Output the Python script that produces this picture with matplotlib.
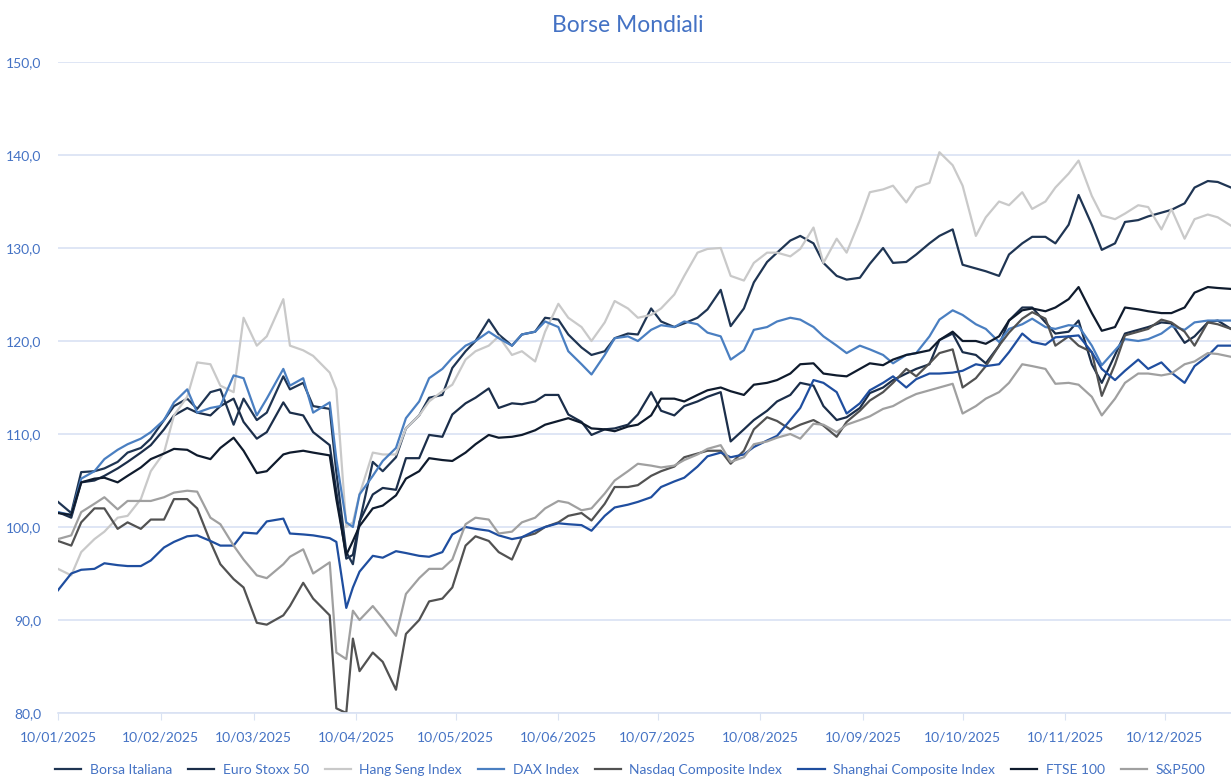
import pandas as pd
import matplotlib
matplotlib.use("Agg")
import matplotlib.pyplot as plt
import matplotlib.dates as mdates
from matplotlib.ticker import FuncFormatter

# closes read twice a week (one row per month)
dates = ["2025-01-10", "2025-01-14", "2025-01-17", "2025-01-21", "2025-01-24", "2025-01-28", "2025-01-31",
         "2025-02-04", "2025-02-07", "2025-02-11", "2025-02-14", "2025-02-18", "2025-02-21", "2025-02-25", "2025-02-28",
         "2025-03-04", "2025-03-07", "2025-03-11", "2025-03-14", "2025-03-19", "2025-03-21", "2025-03-25", "2025-03-28",
         "2025-04-02", "2025-04-04", "2025-04-07", "2025-04-09", "2025-04-11", "2025-04-15", "2025-04-18", "2025-04-22",
         "2025-04-25", "2025-04-29",
         "2025-05-02", "2025-05-06", "2025-05-09", "2025-05-13", "2025-05-16", "2025-05-20", "2025-05-23", "2025-05-27",
         "2025-05-30",
         "2025-06-03", "2025-06-06", "2025-06-10", "2025-06-13", "2025-06-17", "2025-06-20", "2025-06-24", "2025-06-27",
         "2025-07-01", "2025-07-04", "2025-07-08", "2025-07-11", "2025-07-15", "2025-07-18", "2025-07-22", "2025-07-25",
         "2025-07-29",
         "2025-08-01", "2025-08-05", "2025-08-08", "2025-08-12", "2025-08-15", "2025-08-19", "2025-08-22", "2025-08-26",
         "2025-08-29",
         "2025-09-02", "2025-09-05", "2025-09-09", "2025-09-12", "2025-09-16", "2025-09-19", "2025-09-23", "2025-09-26",
         "2025-09-30",
         "2025-10-03", "2025-10-07", "2025-10-10", "2025-10-14", "2025-10-17", "2025-10-21", "2025-10-24", "2025-10-28",
         "2025-10-31",
         "2025-11-04", "2025-11-07", "2025-11-11", "2025-11-14", "2025-11-18", "2025-11-21", "2025-11-25", "2025-11-28",
         "2025-12-02", "2025-12-05", "2025-12-09", "2025-12-12", "2025-12-16", "2025-12-19", "2025-12-23", "2025-12-26",
         "2025-12-30"]

borsa_italiana = [102.7, 101.5, 105.9, 106.0, 106.3, 107.0, 108.0,
                  108.5, 109.5, 111.5, 113.0, 113.8, 112.7, 114.5, 114.8,
                  111.0, 113.8, 111.5, 112.3, 116.2, 114.8, 115.5, 113.0,
                  112.7, 105.9, 97.3, 96.0, 100.5, 107.0, 106.0, 107.5, 110.6, 112.0,
                  113.9, 114.2, 117.1, 118.9, 120.0, 122.3, 120.7, 119.5, 120.7,
                  121.0, 122.5, 122.3, 120.7, 119.3, 118.5, 118.9, 120.3,
                  120.8, 120.7, 123.5, 122.1, 121.5, 121.9, 122.5, 123.4, 125.5,
                  121.6, 123.5, 126.3, 128.5, 129.5, 130.8, 131.3, 130.5, 128.4,
                  127.0, 126.6, 126.8, 128.3, 130.0, 128.4, 128.5, 129.3, 130.5,
                  131.3, 132.0, 128.2, 127.8, 127.5, 127.0, 129.3, 130.5, 131.2,
                  131.2, 130.5, 132.5, 135.7, 132.5, 129.8, 130.5, 132.8,
                  133.0, 133.4, 133.8, 134.1, 134.8, 136.5, 137.2, 137.1, 136.5]
euro_stoxx = [101.6, 101.0, 104.8, 105.0, 105.5, 106.3, 107.0,
              108.0, 108.8, 110.5, 112.0, 112.8, 112.3, 112.0, 113.0,
              113.8, 111.3, 109.5, 110.2, 113.4, 112.3, 112.0, 110.2,
              108.8, 103.8, 96.6, 97.0, 100.6, 103.5, 104.2, 104.0, 107.4, 107.4,
              109.9, 109.7, 112.1, 113.3, 113.9, 114.9, 112.8, 113.3, 113.2,
              113.5, 114.2, 114.2, 112.1, 111.3, 109.9, 110.5, 110.6,
              111.0, 112.1, 114.5, 112.5, 112.0, 113.0, 113.5, 114.0, 114.5,
              109.2, 110.5, 111.5, 112.5, 113.5, 114.2, 115.5, 115.2, 113.0,
              111.5, 111.8, 112.8, 114.4, 115.0, 115.8, 116.5, 117.0, 117.5,
              120.1, 120.8, 118.8, 118.5, 117.6, 119.5, 122.2, 123.6, 123.6,
              122.0, 120.8, 121.0, 122.2, 117.5, 115.5, 118.5, 120.8,
              121.2, 121.5, 122.0, 121.9, 119.8, 120.5, 122.0, 122.2, 121.3]
hang_seng = [95.5, 94.8, 97.3, 98.7, 99.5, 101.0, 101.2,
             103.0, 106.0, 108.0, 112.0, 114.0, 117.7, 117.5, 115.2,
             114.5, 122.5, 119.5, 120.5, 124.5, 119.5, 119.0, 118.4,
             116.6, 114.8, 100.0, 100.5, 103.5, 108.0, 107.8, 107.8, 110.6, 112.0,
             113.5, 114.6, 115.3, 118.0, 118.9, 119.5, 120.5, 118.5, 118.9,
             117.8, 121.0, 124.0, 122.5, 121.5, 120.0, 122.0, 124.3,
             123.5, 122.5, 122.8, 123.5, 125.0, 127.0, 129.5, 129.9, 130.0,
             127.0, 126.5, 128.4, 129.5, 129.5, 129.1, 129.9, 132.2, 128.4,
             131.0, 129.5, 133.0, 136.0, 136.3, 136.7, 134.9, 136.5, 137.0,
             140.3, 138.9, 136.7, 131.3, 133.3, 135.0, 134.6, 136.0, 134.2,
             135.0, 136.5, 138.0, 139.4, 135.6, 133.5, 133.1, 133.7,
             134.6, 134.4, 132.0, 134.2, 131.0, 133.1, 133.6, 133.3, 132.4]
dax = [101.6, 101.3, 105.2, 106.0, 107.3, 108.3, 108.9,
       109.5, 110.2, 111.5, 113.4, 114.8, 112.3, 112.8, 113.0,
       116.3, 116.0, 112.0, 113.8, 117.0, 115.2, 116.0, 112.3,
       113.4, 107.3, 100.5, 100.0, 103.5, 105.5, 107.1, 108.5, 111.7, 113.5,
       116.0, 117.0, 118.2, 119.5, 120.0, 121.0, 120.3, 119.5, 120.7,
       121.0, 122.1, 121.5, 118.9, 117.5, 116.4, 118.5, 120.3,
       120.5, 120.0, 121.2, 121.7, 121.5, 122.1, 121.8, 120.9, 120.5,
       118.0, 119.0, 121.2, 121.5, 122.1, 122.5, 122.3, 121.5, 120.5,
       119.5, 118.7, 119.5, 119.1, 118.5, 117.6, 118.5, 118.7, 120.5,
       122.3, 123.3, 122.8, 121.8, 121.3, 119.9, 121.3, 121.8, 122.4,
       121.5, 121.3, 121.7, 121.6, 119.5, 117.4, 119.0, 120.2,
       120.0, 120.2, 120.8, 121.6, 121.2, 122.0, 122.2, 122.2, 122.2]
nasdaq = [98.5, 98.0, 100.5, 102.0, 102.0, 99.8, 100.5,
          99.8, 100.8, 100.8, 103.0, 103.0, 102.0, 98.4, 96.0,
          94.4, 93.5, 89.7, 89.5, 90.5, 91.5, 94.0, 92.3,
          90.5, 80.5, 80.0, 88.0, 84.5, 86.5, 85.5, 82.5, 88.5, 90.0,
          92.0, 92.3, 93.5, 98.0, 99.0, 98.5, 97.3, 96.5, 98.9,
          99.3, 100.0, 100.5, 101.2, 101.5, 100.7, 102.5, 104.3,
          104.3, 104.5, 105.5, 106.0, 106.5, 107.5, 107.9, 108.2, 108.2,
          106.8, 108.2, 110.5, 111.8, 111.4, 110.5, 111.0, 111.5, 110.9,
          109.7, 111.3, 112.5, 113.6, 114.5, 115.5, 117.0, 116.2, 117.6,
          118.7, 119.1, 115.0, 116.0, 117.3, 119.5, 120.9, 122.4, 123.1,
          122.4, 119.5, 120.5, 119.5, 118.8, 114.1, 117.5, 120.6,
          121.0, 121.3, 122.3, 122.0, 121.0, 119.5, 122.0, 121.8, 121.3]
shanghai = [93.2, 95.0, 95.4, 95.5, 96.1, 95.9, 95.8,
            95.8, 96.4, 97.8, 98.4, 99.0, 99.1, 98.5, 98.0,
            98.0, 99.4, 99.3, 100.6, 100.9, 99.3, 99.2, 99.1,
            98.8, 98.4, 91.3, 93.5, 95.2, 96.9, 96.7, 97.4, 97.2, 96.9,
            96.8, 97.3, 99.2, 100.0, 99.8, 99.6, 99.1, 98.7, 98.9,
            99.6, 100.0, 100.4, 100.3, 100.2, 99.6, 101.2, 102.1,
            102.4, 102.7, 103.2, 104.3, 104.9, 105.3, 106.5, 107.6, 108.0,
            107.5, 107.8, 108.6, 109.3, 109.8, 111.5, 112.8, 115.8, 115.5,
            114.5, 112.2, 113.3, 114.7, 115.5, 116.2, 115.0, 115.9, 116.5,
            116.5, 116.6, 116.8, 117.5, 117.3, 117.5, 118.8, 120.8, 119.9,
            119.6, 120.4, 120.5, 120.6, 118.8, 117.0, 115.8, 116.8,
            118.0, 117.0, 117.7, 116.6, 115.5, 117.3, 118.4, 119.5, 119.5]
ftse = [101.5, 101.3, 104.8, 105.2, 105.3, 104.8, 105.5,
        106.4, 107.3, 107.9, 108.4, 108.3, 107.7, 107.3, 108.5,
        109.6, 108.2, 105.8, 106.0, 107.8, 108.0, 108.2, 108.0,
        107.7, 103.0, 97.0, 98.5, 100.1, 102.0, 102.3, 103.4, 105.2, 106.0,
        107.4, 107.2, 107.1, 108.0, 108.9, 109.9, 109.6, 109.7, 109.9,
        110.4, 111.0, 111.4, 111.7, 111.2, 110.6, 110.5, 110.3,
        110.8, 111.0, 112.0, 113.8, 113.8, 113.5, 114.2, 114.7, 115.0,
        114.6, 114.2, 115.3, 115.5, 115.8, 116.5, 117.5, 117.6, 116.5,
        116.3, 116.2, 117.0, 117.6, 117.4, 118.0, 118.5, 118.7, 119.0,
        120.1, 121.0, 120.0, 120.0, 119.7, 120.5, 122.2, 123.3, 123.5,
        123.2, 123.6, 124.5, 125.8, 123.0, 121.1, 121.5, 123.6,
        123.4, 123.2, 123.0, 123.0, 123.6, 125.2, 125.8, 125.7, 125.6]
sp500 = [98.7, 99.1, 101.6, 102.5, 103.2, 101.9, 102.8,
         102.8, 102.8, 103.2, 103.7, 103.9, 103.8, 101.0, 100.3,
         98.0, 96.5, 94.8, 94.5, 96.0, 96.8, 97.6, 95.0,
         96.2, 86.5, 85.8, 91.0, 90.0, 91.5, 90.2, 88.3, 92.8, 94.5,
         95.5, 95.5, 96.5, 100.3, 101.0, 100.8, 99.3, 99.5, 100.5,
         101.0, 102.0, 102.8, 102.6, 101.8, 102.0, 103.6, 105.0,
         106.0, 106.8, 106.6, 106.4, 106.6, 107.2, 107.8, 108.4, 108.8,
         107.0, 107.5, 108.9, 109.2, 109.6, 110.0, 109.5, 111.1, 111.0,
         110.2, 111.0, 111.5, 111.9, 112.7, 113.0, 113.8, 114.3, 114.7,
         115.0, 115.4, 112.2, 113.0, 113.8, 114.5, 115.5, 117.5, 117.3,
         117.0, 115.4, 115.5, 115.3, 114.0, 112.0, 113.8, 115.5,
         116.5, 116.5, 116.3, 116.5, 117.5, 117.8, 118.7, 118.6, 118.3]

names = ["Borsa Italiana", "Euro Stoxx 50", "Hang Seng Index", "DAX Index",
         "Nasdaq Composite Index", "Shanghai Composite Index", "FTSE 100", "S&P500"]
series = [borsa_italiana, euro_stoxx, hang_seng, dax, nasdaq, shanghai, ftse, sp500]
colors = ["#1f3553", "#1b2e4a", "#c9c9c9", "#4a7fc1", "#525252", "#1f4e9f", "#0f1b2d", "#a0a0a0"]

blue_txt = "#4472c4"
plt.rcParams["font.family"] = ["Lato", "DejaVu Sans"]

x = pd.to_datetime(dates)
fig = plt.figure(figsize=(12.31, 7.8), dpi=100)
ax = fig.add_axes([58 / 1231, 67 / 780, 1173 / 1231, 651 / 780])

for vals, name, col in zip(series, names, colors):
    ax.plot(x, vals, color=col, linewidth=1.6, label=name)

ax.set_ylim(80, 150)
ax.set_yticks(range(80, 151, 10))
ax.yaxis.set_major_formatter(FuncFormatter(lambda v, p: f"{v:.1f}".replace(".", ",")))
ax.set_xlim(pd.Timestamp("2025-01-10"), pd.Timestamp("2025-12-30"))
ax.set_xticks(pd.date_range("2025-01-01", "2025-12-01", freq="MS") + pd.Timedelta(days=9))
ax.xaxis.set_major_formatter(mdates.DateFormatter("%d/%m/%Y"))

ax.grid(axis="y", color="#d9e2f3", linewidth=1.2)
ax.set_axisbelow(True)
for s in ["top", "right", "left"]:
    ax.spines[s].set_visible(False)
ax.spines["bottom"].set_color("#d9e2f3")
ax.spines["bottom"].set_linewidth(1.2)
ax.tick_params(axis="y", length=0, labelsize=10, labelcolor=blue_txt, pad=12)
ax.tick_params(axis="x", length=5, color="#d9e2f3", labelsize=10, labelcolor=blue_txt, pad=8)

fig.text(628 / 1231, 1 - 26 / 780, "Borse Mondiali", ha="center", va="center",
         fontsize=16.5, color=blue_txt)

leg = fig.legend(loc="center", bbox_to_anchor=(630 / 1231, 1 - 770 / 780), ncol=8,
                 frameon=False, fontsize=10, handlelength=1.9, columnspacing=1.15,
                 handletextpad=0.6, borderaxespad=0)
for t in leg.get_texts():
    t.set_color(blue_txt)

fig.savefig("out.png", dpi=100)
